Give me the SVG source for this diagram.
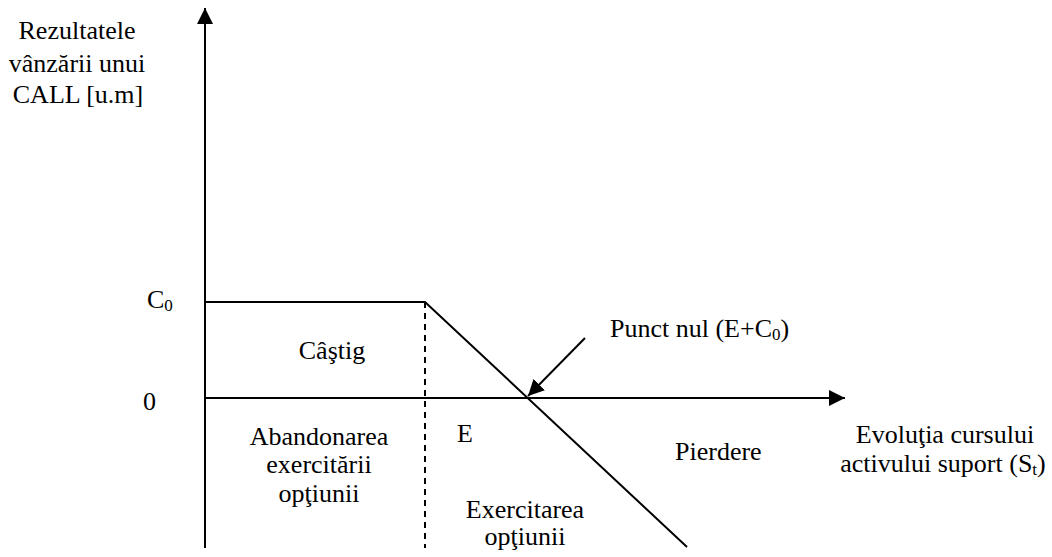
<svg xmlns="http://www.w3.org/2000/svg" width="1052" height="557" viewBox="0 0 1052 557">
<style>
text{font-family:"Liberation Serif","Times New Roman",serif;font-size:26px;fill:#000}
.ln{stroke:#000;stroke-width:2;fill:none}
.sub{font-size:17px}
</style>
<defs>
<marker id="ah2" viewBox="0 0 10 10" refX="10" refY="5" markerWidth="16" markerHeight="16" orient="auto" markerUnits="userSpaceOnUse"><path d="M0,0 L10,5 L0,10 z" fill="#000"/></marker>
</defs>
<g id="connectors">
<line class="ln" x1="205" y1="548" x2="205" y2="8" marker-end="url(#ah2)"/>
<line class="ln" x1="205" y1="398" x2="845" y2="398" marker-end="url(#ah2)"/>
<polyline class="ln" points="205,302 425,302 687,547"/>
<line class="ln" x1="425" y1="302" x2="425" y2="548" stroke-dasharray="6,5"/>
<line class="ln" x1="585" y1="338" x2="528" y2="396" marker-end="url(#ah2)"/>
</g>
<g id="ylabel">
<text x="77" y="39" text-anchor="middle">Rezultatele</text>
<text x="77" y="72" text-anchor="middle">vânzării unui</text>
<text x="78" y="103" text-anchor="middle">CALL [u.m]</text>
</g>
<g id="c0"><text x="147" y="308">C<tspan class="sub" dy="3">0</tspan></text></g>
<g id="zero"><text x="143" y="410">0</text></g>
<g id="castig"><text x="332" y="359" text-anchor="middle">Câştig</text></g>
<g id="abandon">
<text x="319" y="445" text-anchor="middle">Abandonarea</text>
<text x="319" y="473" text-anchor="middle">exercitării</text>
<text x="319" y="502" text-anchor="middle">opţiunii</text>
</g>
<g id="e"><text x="457" y="442">E</text></g>
<g id="punct"><text x="610" y="337">Punct nul (E+C<tspan class="sub" dy="3">0</tspan><tspan dy="-3">)</tspan></text></g>
<g id="pierdere"><text x="675" y="460">Pierdere</text></g>
<g id="exercitarea">
<text x="525" y="518" text-anchor="middle">Exercitarea</text>
<text x="525" y="545" text-anchor="middle">opţiunii</text>
</g>
<g id="xlabel">
<text x="945" y="443" text-anchor="middle">Evoluţia cursului</text>
<text x="943" y="472" text-anchor="middle">activului suport (S<tspan class="sub" dy="3">t</tspan><tspan dy="-3">)</tspan></text>
</g>
</svg>
